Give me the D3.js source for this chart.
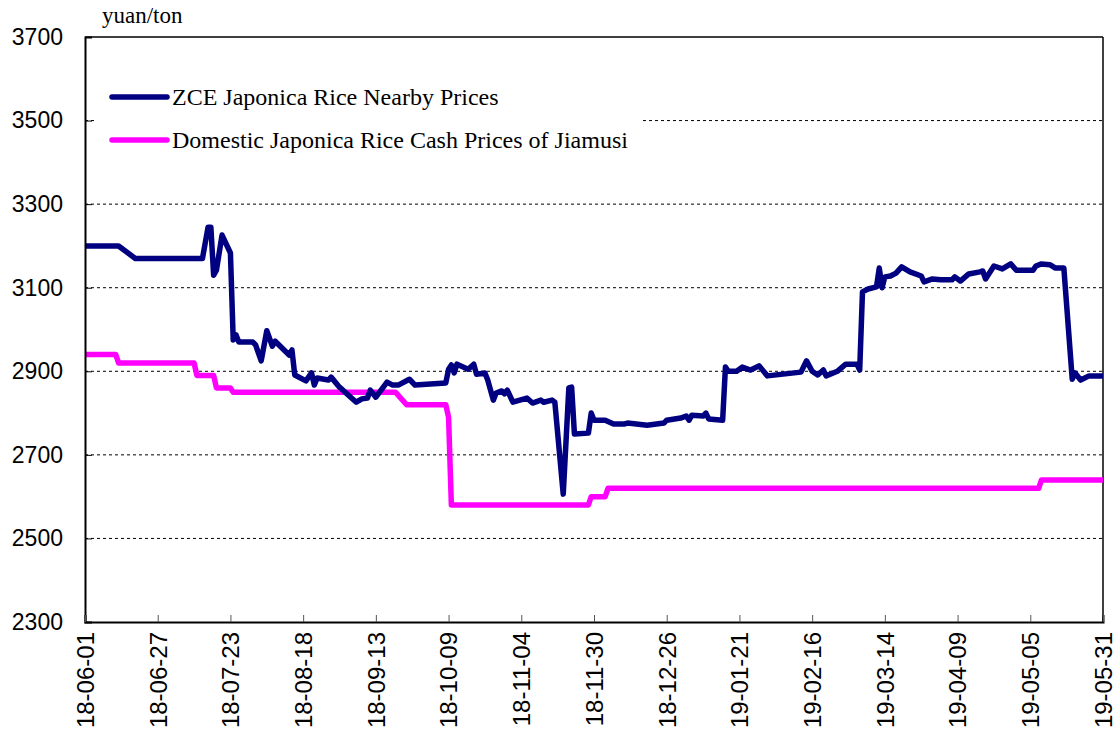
<!DOCTYPE html>
<html>
<head>
<meta charset="utf-8">
<script src="https://cdn.jsdelivr.net/npm/d3@7"></script>
<style>
  body { margin: 0; background: #fff; }
  svg { display: block; }
</style>
</head>
<body>
<svg class="chart" width="1118" height="735"></svg>
<script>
// ZCE japonica rice nearby prices (yuan/ton)
const zceDates = [
  '2018-06-01', '2018-06-13', '2018-06-19', '2018-07-13', '2018-07-15', '2018-07-16', '2018-07-17', '2018-07-18',
  '2018-07-20', '2018-07-23', '2018-07-24', '2018-07-25', '2018-07-26', '2018-07-31', '2018-08-01', '2018-08-03',
  '2018-08-05', '2018-08-07', '2018-08-08', '2018-08-13', '2018-08-14', '2018-08-15', '2018-08-19', '2018-08-21',
  '2018-08-22', '2018-08-23', '2018-08-27', '2018-08-28', '2018-08-31', '2018-09-04', '2018-09-06', '2018-09-08',
  '2018-09-10', '2018-09-11', '2018-09-13', '2018-09-17', '2018-09-19', '2018-09-21', '2018-09-25', '2018-09-27',
  '2018-10-08', '2018-10-09', '2018-10-10', '2018-10-11', '2018-10-12', '2018-10-16', '2018-10-18', '2018-10-19',
  '2018-10-22', '2018-10-23', '2018-10-25', '2018-10-26', '2018-10-28', '2018-10-29', '2018-10-30', '2018-11-01',
  '2018-11-06', '2018-11-08', '2018-11-11', '2018-11-12', '2018-11-15', '2018-11-16', '2018-11-19', '2018-11-21',
  '2018-11-22', '2018-11-23', '2018-11-28', '2018-11-29', '2018-11-30', '2018-12-04', '2018-12-07', '2018-12-11',
  '2018-12-12', '2018-12-19', '2018-12-25', '2018-12-26', '2018-12-31', '2019-01-02', '2019-01-03', '2019-01-04',
  '2019-01-08', '2019-01-09', '2019-01-10', '2019-01-15', '2019-01-16', '2019-01-17', '2019-01-20', '2019-01-22',
  '2019-01-25', '2019-01-28', '2019-01-31', '2019-02-12', '2019-02-14', '2019-02-16', '2019-02-18', '2019-02-20',
  '2019-02-21', '2019-02-25', '2019-02-28', '2019-03-04', '2019-03-05', '2019-03-06', '2019-03-08', '2019-03-11',
  '2019-03-12', '2019-03-13', '2019-03-14', '2019-03-16', '2019-03-18', '2019-03-20', '2019-03-23', '2019-03-27',
  '2019-03-28', '2019-03-31', '2019-04-03', '2019-04-07', '2019-04-08', '2019-04-10', '2019-04-13', '2019-04-17',
  '2019-04-18', '2019-04-19', '2019-04-22', '2019-04-25', '2019-04-28', '2019-04-30', '2019-05-06', '2019-05-07',
  '2019-05-09', '2019-05-12', '2019-05-14', '2019-05-17', '2019-05-20', '2019-05-21', '2019-05-23', '2019-05-26',
  '2019-05-31'
]
const zcePrices = [
  3200, 3200, 3170, 3170, 3245, 3245, 3130, 3142,
  3226, 3183, 2975, 2987, 2970, 2970, 2963, 2925,
  2997, 2960, 2972, 2939, 2951, 2891, 2877, 2896,
  2867, 2884, 2879, 2886, 2862, 2838, 2826, 2834,
  2836, 2855, 2838, 2874, 2867, 2867, 2881, 2867,
  2872, 2905, 2915, 2896, 2917, 2905, 2917, 2893,
  2896, 2879, 2831, 2848, 2853, 2846, 2855, 2826,
  2836, 2824, 2831, 2826, 2831, 2826, 2606, 2860,
  2862, 2750, 2752, 2800, 2783, 2783, 2774, 2774,
  2776, 2771, 2776, 2783, 2788, 2793, 2783, 2795,
  2793, 2800, 2786, 2783, 2910, 2900, 2900, 2910,
  2903, 2913, 2889, 2898, 2925, 2900, 2891, 2903,
  2889, 2900, 2917, 2917, 2903, 3090, 3097, 3102,
  3147, 3100, 3126, 3128, 3135, 3150, 3138, 3128,
  3114, 3121, 3119, 3119, 3126, 3116, 3133, 3138,
  3140, 3121, 3152, 3145, 3157, 3142, 3142, 3152,
  3157, 3155, 3147, 3147, 2881, 2896, 2879, 2889,
  2889
]

// Jiamusi japonica rice cash prices (yuan/ton)
const cashDates = [
  '2018-06-01', '2018-06-12', '2018-06-13', '2018-07-10', '2018-07-11', '2018-07-17', '2018-07-18', '2018-07-23',
  '2018-07-24', '2018-09-20', '2018-09-24', '2018-10-08', '2018-10-09', '2018-10-10', '2018-11-28', '2018-11-29',
  '2018-12-04', '2018-12-05', '2019-05-08', '2019-05-09', '2019-05-31'
]
const cashPrices = [
  2940, 2940, 2920, 2920, 2890, 2890, 2860, 2860,
  2850, 2850, 2820, 2820, 2790, 2580, 2580, 2600,
  2600, 2620, 2620, 2640, 2640
]

const seriesNames = ['ZCE Japonica Rice Nearby Prices', 'Domestic Japonica Rice Cash Prices of Jiamusi']
const seriesColors = ['#000080', '#ff00ff']
const yTicks = [2300, 2500, 2700, 2900, 3100, 3300, 3500, 3700]
const xTickDates = [
  '2018-06-01', '2018-06-27', '2018-07-23', '2018-08-18', '2018-09-13', '2018-10-09', '2018-11-04', '2018-11-30',
  '2018-12-26', '2019-01-21', '2019-02-16', '2019-03-14', '2019-04-09', '2019-05-05', '2019-05-31'
]
const unitLabel = 'yuan/ton'

const parse = d3.timeParse('%Y-%m-%d')
const fmt = d3.timeFormat('%y-%m-%d')

const plotLeft = 85
const plotRight = 1103
const plotTop = 37
const plotBottom = 622

const svg = d3.select('.chart')

const x = d3.scaleTime()
  .domain([parse('2018-06-01'), parse('2019-05-31')])
  .range([plotLeft, plotRight])

const y = d3.scaleLinear()
  .domain([2300, 3700])
  .range([plotBottom, plotTop])

// dotted gridlines
svg.append('g')
  .selectAll('line')
  .data(yTicks.filter(function (d) { return d > 2300 && d < 3700 }))
  .enter()
  .append('line')
  .attr('x1', plotLeft)
  .attr('x2', plotRight)
  .attr('y1', function (d) { return y(d) })
  .attr('y2', function (d) { return y(d) })
  .attr('stroke', '#000')
  .attr('stroke-width', 1)
  .attr('stroke-dasharray', '3,3')

// white legend background covering part of the grid
svg.append('rect')
  .attr('x', 97)
  .attr('y', 68)
  .attr('width', 543)
  .attr('height', 98)
  .attr('fill', '#fff')

// frame (top and right)
svg.append('line')
  .attr('x1', plotLeft).attr('x2', plotRight)
  .attr('y1', plotTop).attr('y2', plotTop)
  .attr('stroke', '#000').attr('stroke-width', 1.5)
svg.append('line')
  .attr('x1', plotRight).attr('x2', plotRight)
  .attr('y1', plotTop).attr('y2', plotBottom)
  .attr('stroke', '#000').attr('stroke-width', 1.5)

// lines
const line = d3.line()
  .x(function (d) { return x(d.date) })
  .y(function (d) { return y(d.value) })

const zceData = zceDates.map(function (d, i) { return { date: parse(d), value: zcePrices[i] } })
const cashData = cashDates.map(function (d, i) { return { date: parse(d), value: cashPrices[i] } })

svg.append('path')
  .datum(cashData)
  .attr('d', line)
  .attr('fill', 'none')
  .attr('stroke', seriesColors[1])
  .attr('stroke-width', 5.5)
  .attr('stroke-linejoin', 'round')

svg.append('path')
  .datum(zceData)
  .attr('d', line)
  .attr('fill', 'none')
  .attr('stroke', seriesColors[0])
  .attr('stroke-width', 5.5)
  .attr('stroke-linejoin', 'round')

// y axis
const yAxis = svg.append('g')
  .attr('transform', 'translate(' + plotLeft + ',0)')
  .call(d3.axisRight(y).tickValues(yTicks).tickSize(7).tickFormat(d3.format('d')))
yAxis.select('.domain').attr('stroke', '#000').attr('stroke-width', 2)
yAxis.selectAll('text')
  .attr('x', -22)
  .attr('text-anchor', 'end')
  .attr('font-family', 'Arial, "Liberation Sans", sans-serif')
  .attr('font-size', '23px')
  .attr('fill', '#000')

// x axis
const xAxis = svg.append('g')
  .attr('transform', 'translate(0,' + plotBottom + ')')
  .call(d3.axisTop(x).tickValues(xTickDates.map(parse)).tickSize(7).tickFormat(fmt))
xAxis.select('.domain').attr('stroke', '#000').attr('stroke-width', 2)
xAxis.selectAll('.tick line').attr('stroke', '#555')
xAxis.selectAll('text')
  .attr('transform', 'rotate(-90)')
  .attr('x', -10)
  .attr('y', 0)
  .attr('dy', '0.35em')
  .attr('text-anchor', 'end')
  .attr('font-family', 'Arial, "Liberation Sans", sans-serif')
  .attr('font-size', '24px')
  .attr('fill', '#000')

// unit label
svg.append('text')
  .attr('x', 102)
  .attr('y', 23)
  .attr('font-family', '"Times New Roman", "Liberation Serif", serif')
  .attr('font-size', '23px')
  .text(unitLabel)

// legend
const legend = svg.append('g')
  .selectAll('g')
  .data(seriesNames)
  .enter()
  .append('g')
  .attr('transform', function (d, i) { return 'translate(112,' + (97 + i * 43) + ')' })

legend.append('line')
  .attr('x1', 0)
  .attr('x2', 55)
  .attr('stroke', function (d, i) { return seriesColors[i] })
  .attr('stroke-width', 5.5)
  .attr('stroke-linecap', 'round')

legend.append('text')
  .attr('x', 60)
  .attr('dy', '0.33em')
  .attr('font-family', '"Times New Roman", "Liberation Serif", serif')
  .attr('font-size', '24px')
  .text(function (d) { return d })
</script>
</body>
</html>
